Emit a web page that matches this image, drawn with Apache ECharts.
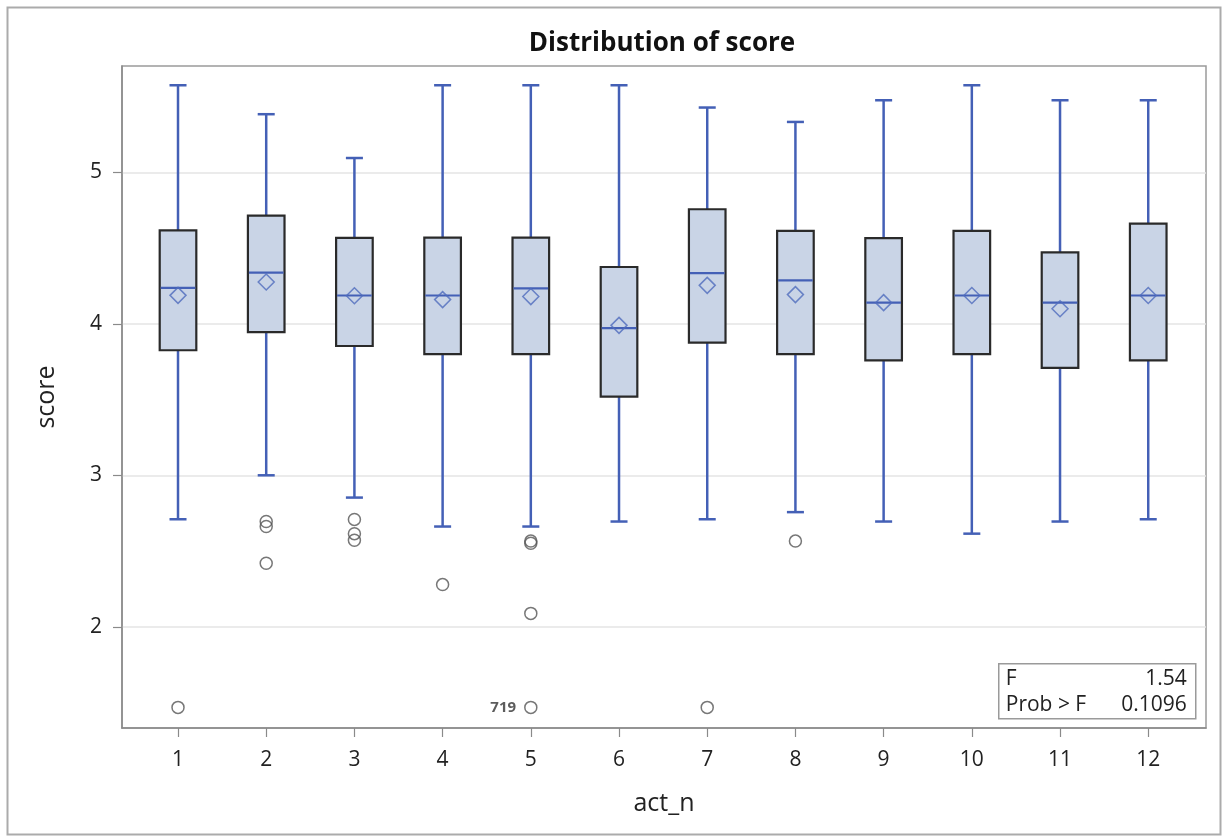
<!DOCTYPE html>
<html>
<head>
<meta charset="utf-8">
<script src="https://cdn.jsdelivr.net/npm/echarts@6/dist/echarts.min.js"></script>
<style>
html,body{margin:0;padding:0;background:#fff;}
#c{width:1223px;height:836px;}
</style>
</head>
<body>
<div id="c"></div>
<script>
// ---- data ----
const categories  = [1, 2, 3, 4, 5, 6, 7, 8, 9, 10, 11, 12];
const whiskerLow  = [2.711, 3.001, 2.854, 2.663, 2.663, 2.696, 2.711, 2.758, 2.696, 2.616, 2.696, 2.711];
const q1          = [3.826, 3.946, 3.854, 3.800, 3.800, 3.520, 3.876, 3.800, 3.759, 3.800, 3.710, 3.759];
const medians     = [4.237, 4.338, 4.187, 4.187, 4.234, 3.972, 4.335, 4.287, 4.140, 4.187, 4.140, 4.187];
const q3          = [4.617, 4.714, 4.567, 4.569, 4.569, 4.375, 4.756, 4.613, 4.566, 4.613, 4.472, 4.661];
const whiskerHigh = [5.574, 5.383, 5.094, 5.574, 5.574, 5.574, 5.427, 5.332, 5.475, 5.574, 5.475, 5.475];
const means       = [4.188, 4.276, 4.185, 4.160, 4.180, 3.990, 4.254, 4.193, 4.140, 4.187, 4.100, 4.187];
const outlierCats   = [1, 2, 2, 2, 3, 3, 3, 4, 5, 5, 5, 5, 7, 8];
const outlierValues = [1.47, 2.696, 2.663, 2.421, 2.710, 2.616, 2.572, 2.280, 2.567, 2.553, 2.090, 1.470, 1.470, 2.567];
const outlierLabels = ['', '', '', '', '', '', '', '', '', '', '', '719', '', ''];
const yTicks = [2, 3, 4, 5];
const statNames  = ['F', 'Prob > F'];
const statValues = ['1.54', '0.1096'];
const titleText = 'Distribution of score';
const xName = 'act_n';
const yName = 'score';

// ---- chart ----
const BLUE = '#4460b6';
const FONT = '"Open Sans", "Noto Sans", sans-serif';
const chart = echarts.init(document.getElementById('c'), null, {renderer: 'canvas'});

const boxData = categories.map((c, i) => [c, whiskerLow[i], q1[i], medians[i], q3[i], whiskerHigh[i]]);
const meanData = categories.map((c, i) => [c, means[i]]);
const outData = outlierCats.map((c, i) => ({value: [c, outlierValues[i]], name: outlierLabels[i]}));

const option = {
  animation: false,
  backgroundColor: '#fff',
  title: {
    text: titleText,
    left: 657, top: 26, textAlign: 'center',
    textStyle: {fontFamily: FONT, fontSize: 26, fontWeight: 'bold', color: '#111'}
  },
  grid: {
    left: 122, right: 17, top: 66, bottom: 108,
    show: true, borderColor: '#9a9a9a', borderWidth: 1.5,
    containLabel: false, outerBoundsMode: 'none'
  },
  xAxis: {
    type: 'value', min: 0.365, max: 12.655,
    name: xName, nameLocation: 'middle', nameGap: 63,
    nameTextStyle: {fontFamily: FONT, fontSize: 25, color: '#222'},
    axisLine: {show: true, lineStyle: {color: '#8a8a8a', width: 1.5}},
    axisTick: {show: true, customValues: categories, length: 9, lineStyle: {color: '#8a8a8a', width: 1.2}},
    axisLabel: {customValues: categories, fontFamily: FONT, fontSize: 21, color: '#222', margin: 22},
    splitLine: {show: false}
  },
  yAxis: {
    type: 'value', min: 1.334, max: 5.701,
    name: yName, nameLocation: 'middle', nameGap: 63,
    nameTextStyle: {fontFamily: FONT, fontSize: 25, color: '#222'},
    axisLine: {show: true, lineStyle: {color: '#8a8a8a', width: 1.5}},
    axisTick: {show: true, customValues: yTicks, length: 9, lineStyle: {color: '#8a8a8a', width: 1.2}},
    axisLabel: {customValues: yTicks, fontFamily: FONT, fontSize: 21, color: '#222', margin: 20},
    splitLine: {show: true, lineStyle: {color: '#e4e4e4', width: 1.5}}
  },
  series: [
    {
      type: 'custom',
      data: boxData,
      encode: {x: 0, y: [1, 2, 3, 4, 5]},
      z: 2,
      renderItem: function (params, api) {
        const x = api.value(0);
        const lo = api.coord([x, api.value(1)]);
        const b1 = api.coord([x, api.value(2)]);
        const md = api.coord([x, api.value(3)]);
        const b3 = api.coord([x, api.value(4)]);
        const hi = api.coord([x, api.value(5)]);
        const unit = api.size([1, 0])[0];
        const bw = unit * 0.415;
        const cw = unit * 0.193;
        const cx = md[0];
        const ls = {stroke: BLUE, lineWidth: 2.5};
        return {
          type: 'group',
          children: [
            {type: 'line', shape: {x1: cx, y1: lo[1], x2: cx, y2: b1[1]}, style: ls},
            {type: 'line', shape: {x1: cx, y1: b3[1], x2: cx, y2: hi[1]}, style: ls},
            {type: 'line', shape: {x1: cx - cw / 2, y1: lo[1], x2: cx + cw / 2, y2: lo[1]}, style: ls},
            {type: 'line', shape: {x1: cx - cw / 2, y1: hi[1], x2: cx + cw / 2, y2: hi[1]}, style: ls},
            {type: 'rect', shape: {x: cx - bw / 2, y: b3[1], width: bw, height: b1[1] - b3[1]},
              style: {fill: '#c9d4e6', stroke: '#2a2a2a', lineWidth: 2.2}},
            {type: 'line', shape: {x1: cx - bw / 2 + 1, y1: md[1], x2: cx + bw / 2 - 1, y2: md[1]},
              style: {stroke: BLUE, lineWidth: 2.2}}
          ]
        };
      }
    },
    {
      type: 'scatter',
      data: meanData,
      symbol: 'diamond',
      symbolSize: 16,
      z: 3,
      itemStyle: {color: 'rgba(0,0,0,0)', borderColor: '#4f6bbd', borderWidth: 1.5}
    },
    {
      type: 'scatter',
      data: outData,
      symbol: 'circle',
      symbolSize: 12,
      z: 3,
      itemStyle: {color: 'rgba(0,0,0,0)', borderColor: '#555', borderWidth: 1.5},
      label: {
        show: true, position: 'left', distance: 8,
        formatter: p => p.name,
        fontFamily: FONT, fontSize: 15, fontWeight: 'bold', color: '#333'
      }
    }
  ],
  graphic: [
    {type: 'rect', left: 5, top: 5, silent: true, z: 0,
      shape: {width: 1213, height: 827}, style: {fill: 'none', stroke: '#ababab', lineWidth: 2}},
    {type: 'group', left: 998, top: 663, z: 10, children: [
      {type: 'rect', shape: {x: 0, y: 0, width: 197, height: 55}, style: {fill: '#fff', stroke: '#9a9a9a', lineWidth: 1.5}},
      {type: 'text', x: 7, y: 15, style: {text: statNames[0], font: '21px ' + FONT, fill: '#222', verticalAlign: 'middle', align: 'left'}},
      {type: 'text', x: 188, y: 15, style: {text: statValues[0], font: '21px ' + FONT, fill: '#222', verticalAlign: 'middle', align: 'right'}},
      {type: 'text', x: 7, y: 41, style: {text: statNames[1], font: '21px ' + FONT, fill: '#222', verticalAlign: 'middle', align: 'left'}},
      {type: 'text', x: 188, y: 41, style: {text: statValues[1], font: '21px ' + FONT, fill: '#222', verticalAlign: 'middle', align: 'right'}}
    ]}
  ]
};
chart.setOption(option);
</script>
</body>
</html>
